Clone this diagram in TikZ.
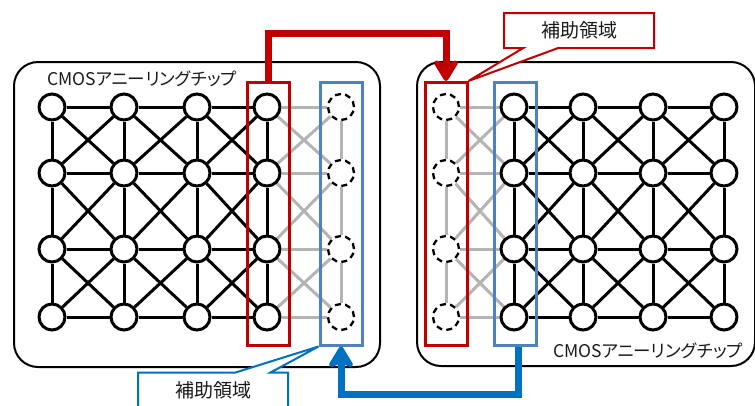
\documentclass[tikz,border=0pt]{standalone}
\usepackage{fontspec}
\newfontfamily\jp{Noto Sans CJK JP}
\newfontfamily\jpp[RawFeature=+palt]{Noto Sans CJK JP}
\usetikzlibrary{shapes.callouts,arrows.meta,calc}
\definecolor{cred}{HTML}{C00000}
\definecolor{cblue}{HTML}{0070C0}
\definecolor{cbox}{HTML}{4F81BD}
\definecolor{cgray}{HTML}{B4B4B4}
\definecolor{ctext}{HTML}{1A1A1A}
\pgfdeclarelayer{bg}
\pgfdeclarelayer{mid}
\pgfsetlayers{bg,mid,main}
\begin{document}
\begin{tikzpicture}[x=1pt,y=-1pt,
  qb/.style={circle,draw=black,line width=3pt,fill=white,minimum size=26pt,inner sep=0pt},
  aux/.style={circle,draw=black,line width=2.3pt,dash pattern=on 6pt off 4.2pt,fill=white,minimum size=26pt,inner sep=0pt},
  edge/.style={line width=3pt,black},
  gedge/.style={line width=3pt,cgray},
  chip/.style={draw=black,line width=2pt,fill=white,rounded corners=24pt,inner sep=0pt},
  region/.style={draw,line width=3pt,minimum width=42pt,minimum height=263pt,inner sep=0pt},
  bigarrow/.style={line width=7pt,-{Stealth[length=25pt,width=30pt,inset=6pt,round]}},
  chiplabel/.style={font=\jpp\fontsize{17.5}{20}\selectfont,text=ctext,inner sep=0pt},
  note/.style={rectangle callout,draw,line width=2pt,fill=white,font=\jp\fontsize{19}{22}\selectfont,text=ctext,
    minimum width=150pt,minimum height=35pt,inner sep=0pt,callout pointer width=35pt}
]
\useasboundingbox (0,0) rectangle (755,405);

% chips
\begin{pgfonlayer}{bg}
\node[chip,minimum width=366pt,minimum height=305pt] (lchip) at (197,214.5) {};
\node[chip,minimum width=338pt,minimum height=304pt] (rchip) at (586,214) {};
\end{pgfonlayer}

% left grid nodes
\def\rows{1/107,2/173,3/249,4/317}
\foreach \c/\x in {1/52,2/124,3/197,4/267}{
  \foreach \r/\y in \rows { \node[qb] (L\c\r) at (\x,\y) {}; }
}
\foreach \r/\y in \rows { \node[aux] (L5\r) at (341,\y) {}; }
% right grid nodes
\foreach \r/\y in \rows { \node[aux] (R0\r) at (446,\y) {}; }
\foreach \c/\x in {1/514,2/583,3/653,4/724}{
  \foreach \r/\y in \rows { \node[qb] (R\c\r) at (\x,\y) {}; }
}

% edges
\begin{pgfonlayer}{bg}
% left: horizontals
\foreach \c [evaluate=\c as \n using int(\c+1)] in {1,2,3}{
  \foreach \r in {1,2,3,4}{ \draw[edge] (L\c\r) -- (L\n\r); }
}
\foreach \r in {1,2,3,4}{ \draw[gedge] (L4\r) -- (L5\r); }
% left: verticals
\foreach \c in {1,2,3,4}{
  \foreach \r [evaluate=\r as \m using int(\r+1)] in {1,2,3}{ \draw[edge] (L\c\r) -- (L\c\m); }
}
\foreach \r [evaluate=\r as \m using int(\r+1)] in {1,2,3}{ \draw[gedge] (L5\r) -- (L5\m); }
% left: diagonals
\foreach \c [evaluate=\c as \n using int(\c+1)] in {1,2,3}{
  \foreach \r [evaluate=\r as \m using int(\r+1)] in {1,2,3}{
    \draw[edge] (L\c\r) -- (L\n\m); \draw[edge] (L\n\r) -- (L\c\m);
  }
}
\foreach \r [evaluate=\r as \m using int(\r+1)] in {1,2,3}{
  \draw[gedge] (L4\r) -- (L5\m); \draw[gedge] (L5\r) -- (L4\m);
}
% right: horizontals
\foreach \r in {1,2,3,4}{ \draw[gedge] (R0\r) -- (R1\r); }
\foreach \c [evaluate=\c as \n using int(\c+1)] in {1,2,3}{
  \foreach \r in {1,2,3,4}{ \draw[edge] (R\c\r) -- (R\n\r); }
}
% right: verticals
\foreach \r [evaluate=\r as \m using int(\r+1)] in {1,2,3}{ \draw[gedge] (R0\r) -- (R0\m); }
\foreach \c in {1,2,3,4}{
  \foreach \r [evaluate=\r as \m using int(\r+1)] in {1,2,3}{ \draw[edge] (R\c\r) -- (R\c\m); }
}
% right: diagonals
\foreach \r [evaluate=\r as \m using int(\r+1)] in {1,2,3}{
  \draw[gedge] (R0\r) -- (R1\m); \draw[gedge] (R1\r) -- (R0\m);
}
\foreach \c [evaluate=\c as \n using int(\c+1)] in {1,2,3}{
  \foreach \r [evaluate=\r as \m using int(\r+1)] in {1,2,3}{
    \draw[edge] (R\c\r) -- (R\n\m); \draw[edge] (R\n\r) -- (R\c\m);
  }
}
\end{pgfonlayer}

% regions
\begin{pgfonlayer}{mid}
\node[region,draw=cred] (lred) at (268,213.5) {};
\node[region,draw=cbox] (lblue) at (341,213.5) {};
\node[region,draw=cred] (rred) at (446,214) {};
\node[region,draw=cbox] (rblue) at (515.5,214) {};
\end{pgfonlayer}

% labels
\node[chiplabel,anchor=base west] (llab) at (47,85) {CMOSアニーリングチップ};
\node[chiplabel,anchor=base east] (rlab) at (743,357) {CMOSアニーリングチップ};

% arrows
\coordinate (redturn) at (446,33);
\draw[bigarrow,cred] (lred.north) |- (redturn) -- (rred.north);
\coordinate (blueturn) at (518,394);
\draw[bigarrow,cblue] (rblue.south -| blueturn) -- (blueturn) -| (lblue.south);

% callouts
\node[note,draw=cred,callout absolute pointer={(rred.north east)}] (topnote) at (579,30.5) {補助領域};
\node[note,draw=cblue,callout absolute pointer={(lblue.south west)}] (botnote) at (213,390) {補助領域};
\end{tikzpicture}
\end{document}
